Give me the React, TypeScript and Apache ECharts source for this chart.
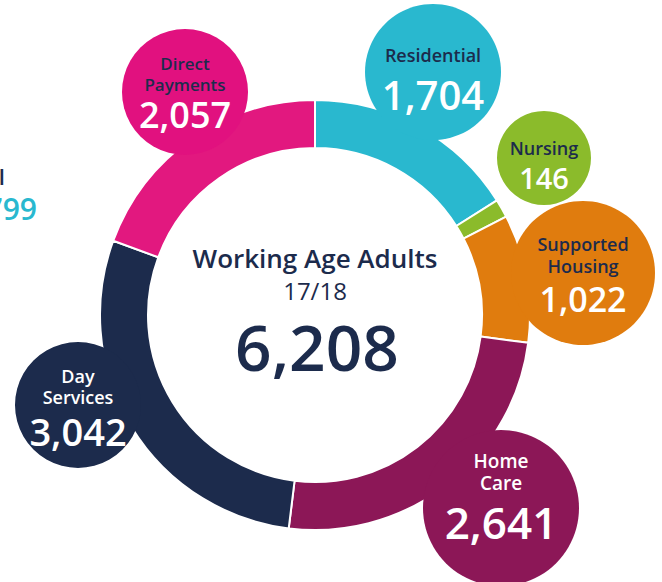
import React, { useEffect, useRef } from "react";
import * as echarts from "echarts";

const categories = ["Residential", "Nursing", "Supported Housing", "Home Care", "Day Services", "Direct Payments"];
const values = [1704, 146, 1022, 2641, 3042, 2057];
const labelLines = [["Residential"], ["Nursing"], ["Supported", "Housing"], ["Home", "Care"], ["Day", "Services"], ["Direct", "Payments"]];
const totalTitle = "Working Age Adults";
const totalYear = "17/18";
const totalValue = 6208;
const sideLabel = "Total";
const sideValue = 4799;

const colors = ["#29B8CF", "#8BBB2B", "#E07C0E", "#8C1757", "#1C2B4C", "#E2187F"];
const bubbleColors = ["#29B8CF", "#8BBB2B", "#E07C0E", "#8C1757", "#1C2B4C", "#E1117F"];
const labelColors = ["#1C2B4C", "#1C2B4C", "#1C2B4C", "#FFFFFF", "#FFFFFF", "#1C2B4C"];
// bubble layout: cx, cy, r, labelSize, numberSize, labelY (first line), lineGap, numberY
const bubbleLayout = [
  [433, 72, 68, 18, 40, 55, 21, 94],
  [544, 158, 47, 18, 29, 148, 21, 177],
  [583, 273, 72, 18, 34, 244, 22, 299],
  [501, 508, 78, 19, 44, 461, 22, 522],
  [78, 405, 63, 18, 38, 376, 21, 431],
  [185, 92, 63, 17, 36, 63, 21, 114],
];

const fmt = (v: number) => v.toLocaleString("en-GB");
const FONT = "'Open Sans', sans-serif";

export default function App() {
  const ref = useRef<HTMLDivElement>(null);
  useEffect(() => {
    if (!ref.current) return;
    const chart = echarts.init(ref.current, undefined, { renderer: "svg" });
    const graphics: any[] = [];
    categories.forEach((c, i) => {
      const [cx, cy, r, ls, ns, ly, gap, ny] = bubbleLayout[i];
      const lines = labelLines[i];
      graphics.push({ type: "circle", z: 20, shape: { cx, cy, r }, style: { fill: bubbleColors[i] } });
      graphics.push({
        type: "text", z: 30, x: cx, y: ly + ((lines.length - 1) * gap) / 2,
        style: {
          text: lines.join("\n"), fill: labelColors[i], font: `600 ${ls}px ${FONT}`,
          lineHeight: gap, textAlign: "center", textVerticalAlign: "middle",
        },
      });
      graphics.push({
        type: "text", z: 30, x: cx, y: ny,
        style: { text: fmt(values[i]), fill: "#FFFFFF", font: `600 ${ns}px ${FONT}`, textAlign: "center", textVerticalAlign: "middle" },
      });
    });
    graphics.push(
      { type: "text", z: 30, x: 315, y: 258, style: { text: totalTitle, fill: "#1C2B4C", font: `600 26px ${FONT}`, textAlign: "center", textVerticalAlign: "middle" } },
      { type: "text", z: 30, x: 315, y: 290, style: { text: totalYear, fill: "#1C2B4C", font: `400 24px ${FONT}`, textAlign: "center", textVerticalAlign: "middle" } },
      { type: "text", z: 30, x: 317, y: 346, style: { text: fmt(totalValue), fill: "#1C2B4C", font: `600 64px ${FONT}`, textAlign: "center", textVerticalAlign: "middle" } },
      { type: "text", z: 30, x: 5, y: 176, style: { text: sideLabel, fill: "#1C2B4C", font: `600 22px ${FONT}`, textAlign: "right", textVerticalAlign: "middle" } },
      { type: "text", z: 30, x: 37, y: 208, style: { text: fmt(sideValue), fill: "#29B8CF", font: `600 30px ${FONT}`, textAlign: "right", textVerticalAlign: "middle" } }
    );
    chart.setOption({
      animation: false,
      backgroundColor: "#FFFFFF",
      graphic: { z: 20, elements: graphics },
      series: [
        {
          type: "pie",
          center: [315, 315],
          radius: [167, 215],
          startAngle: 90,
          clockwise: true,
          silent: true,
          z: 2,
          label: { show: false },
          labelLine: { show: false },
          itemStyle: { borderColor: "#FFFFFF", borderWidth: 2 },
          data: categories.map((c, i) => ({ name: c, value: values[i], itemStyle: { color: colors[i] } })),
        },
      ],
    });
    return () => chart.dispose();
  }, []);
  return <div ref={ref} style={{ position: "absolute", left: 0, top: 0, width: 662, height: 582 }} />;
}
